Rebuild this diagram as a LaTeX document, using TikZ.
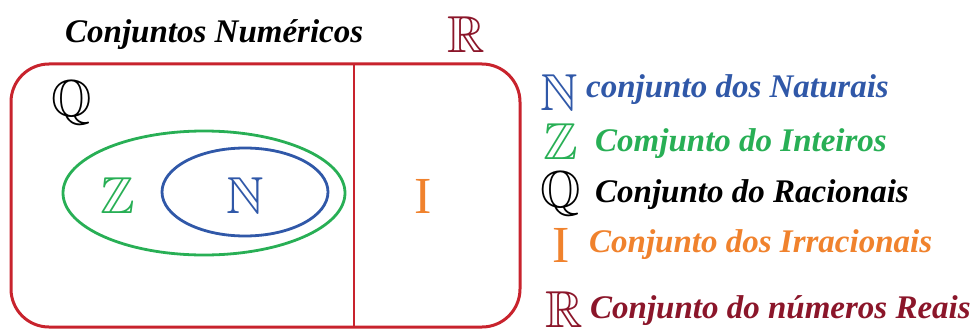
\documentclass[tikz,border=0pt]{standalone}
\usepackage{amssymb}
\usepackage{fontspec}
\setmainfont{Liberation Serif}

\definecolor{caixa}{RGB}{200,35,45}
\definecolor{reais}{RGB}{139,22,42}
\definecolor{verde}{RGB}{40,175,85}
\definecolor{azul}{RGB}{48,88,168}
\definecolor{laranja}{RGB}{240,130,45}

\tikzset{
  legtext/.style={anchor=base west, inner sep=0pt, font=\fontsize{33}{33}\selectfont\bfseries\itshape},
  setsym/.style={inner sep=0pt, font=\fontsize{52}{52}\selectfont}
}

\begin{document}
\begin{tikzpicture}[x=1pt, y=-1pt]
          \useasboundingbox (0,0) rectangle (974,329);

          \draw[color=caixa, line width=3pt, rounded corners=38pt] (11,64) rectangle (520,327);
          \draw[color=caixa, line width=2.5pt] (354,64) -- (354,327);

          \draw[color=verde, line width=2.8pt] (204,193) ellipse (141 and 62);
          \draw[color=azul, line width=2.8pt] (245,192) ellipse (83 and 44);

          \node[legtext] (titulo) at (65,43) {Conjuntos Numéricos};
          \node[setsym, color=reais] (simR) at (466,35) {$\mathbb{R}$};

          \node[setsym] (simQ) at (72,103) {$\mathbb{Q}$};
          \node[setsym, color=verde] (simZ) at (118,196) {$\mathbb{Z}$};
          \node[setsym, color=azul] (simN) at (245,196) {$\mathbb{N}$};
          \node[setsym, color=laranja] (simI) at (423,196) {I};

          \node[setsym, color=azul] (legN) at (559,93) {$\mathbb{N}$};
          \node[legtext, color=azul] (txtN) at (586,97) {conjunto dos Naturais};
          \node[setsym, color=verde] (legZ) at (561,142) {$\mathbb{Z}$};
          \node[legtext, color=verde] (txtZ) at (595,151) {Comjunto do Inteiros};
          \node[setsym] (legQ) at (561,194) {$\mathbb{Q}$};
          \node[legtext] (txtQ) at (595,202) {Conjunto do Racionais};
          \node[setsym, color=laranja] (legI) at (561,245) {I};
          \node[legtext, color=laranja] (txtI) at (589,252) {Conjunto dos Irracionais};
          \node[setsym, color=reais] (legR) at (564,310) {$\mathbb{R}$};
          \node[legtext, color=reais] (txtR) at (590,318) {Conjunto do números Reais};
\end{tikzpicture}
\end{document}
